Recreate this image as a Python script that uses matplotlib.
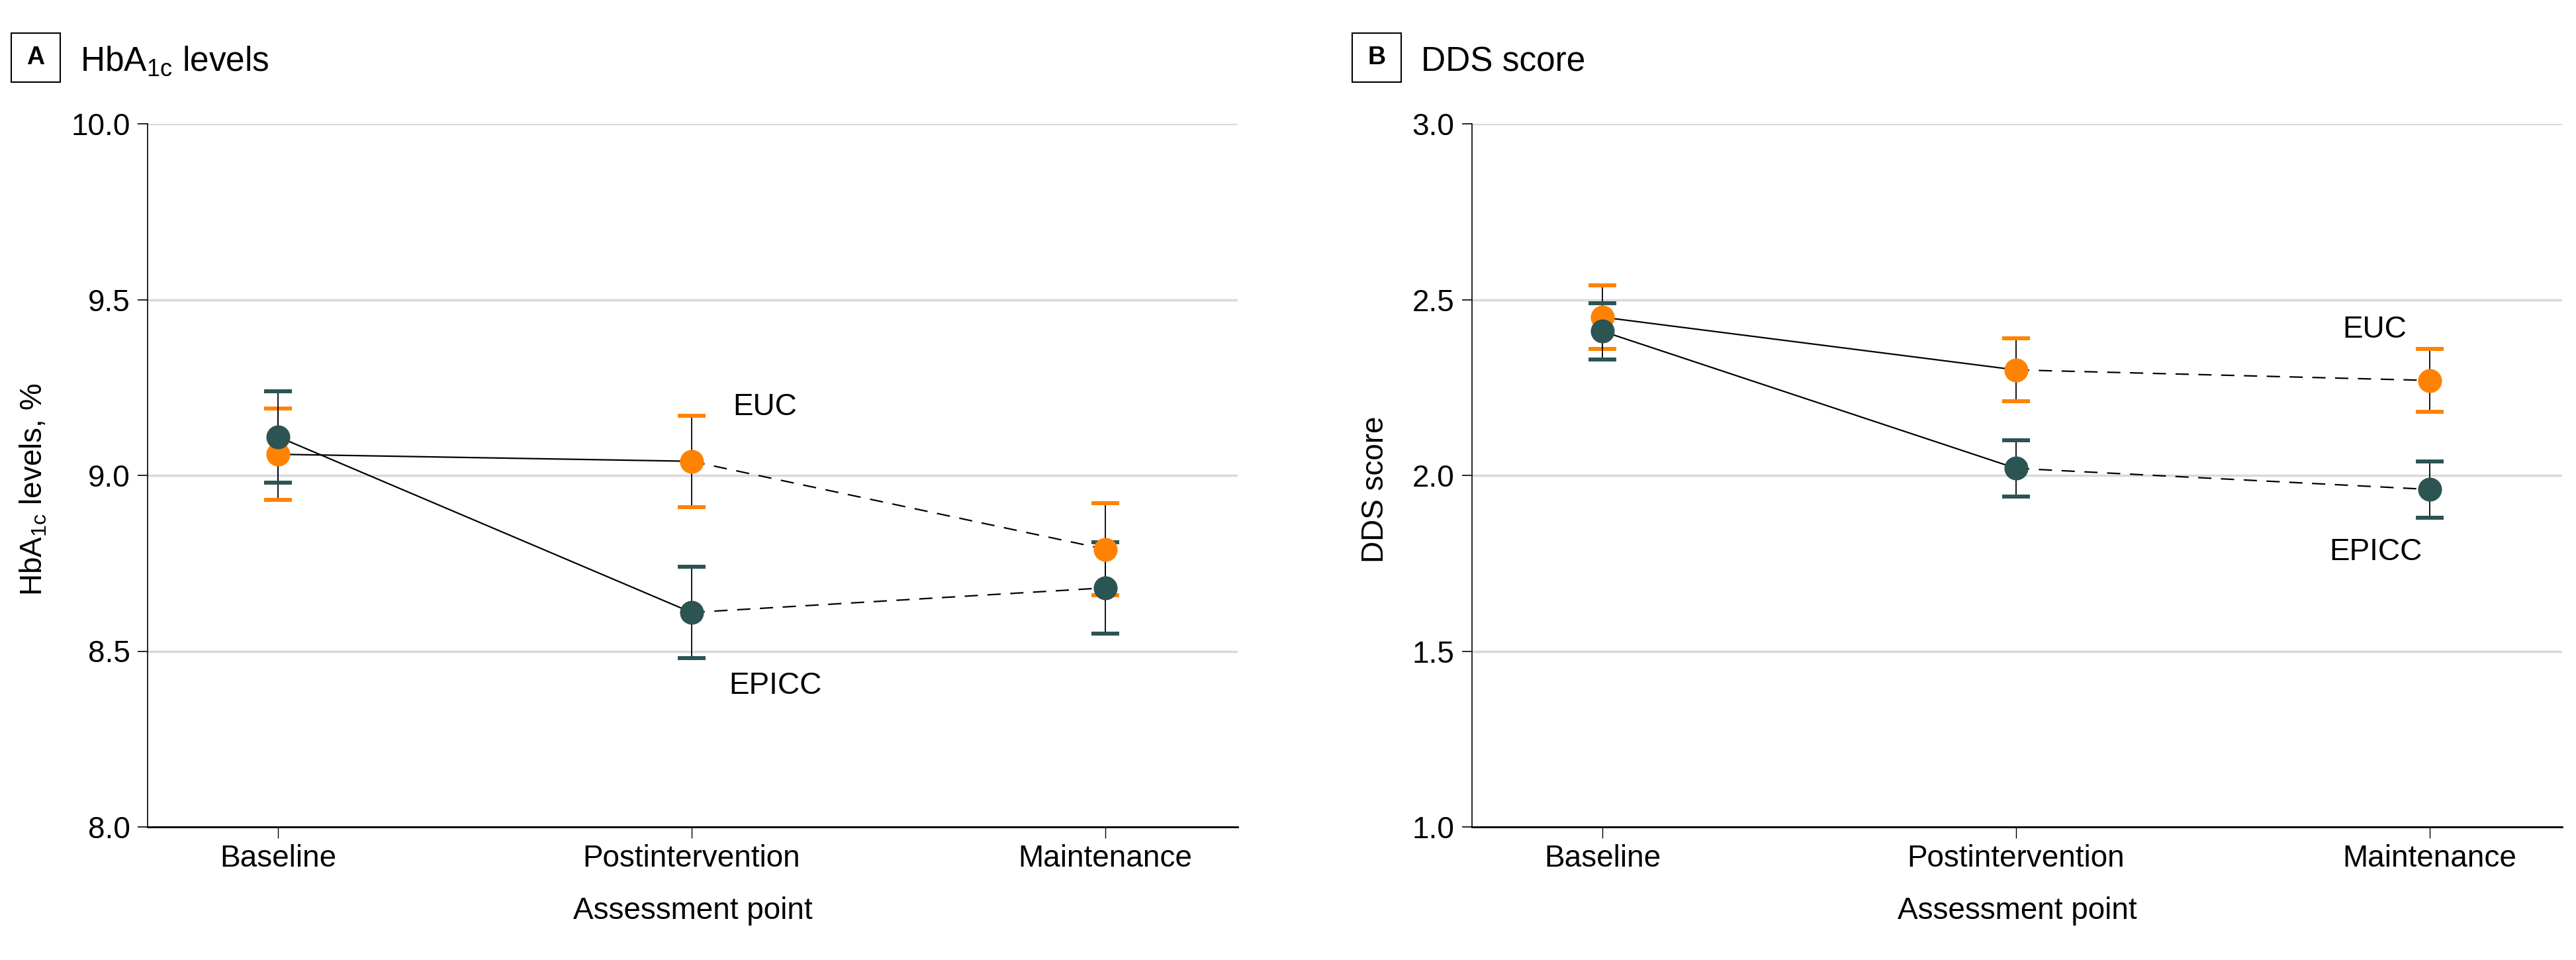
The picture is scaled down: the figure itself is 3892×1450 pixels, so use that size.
import matplotlib
matplotlib.use('Agg')
import matplotlib.pyplot as plt
from matplotlib.patches import Rectangle

plt.rcParams['font.family'] = ['Liberation Sans', 'DejaVu Sans']

# values
stages = ['Baseline', 'Postintervention', 'Maintenance']

hba1c_epicc = [9.11, 8.61, 8.68]
hba1c_epicc_lo = [8.98, 8.48, 8.55]
hba1c_epicc_hi = [9.24, 8.74, 8.81]
hba1c_euc = [9.06, 9.04, 8.79]
hba1c_euc_lo = [8.93, 8.91, 8.66]
hba1c_euc_hi = [9.19, 9.17, 8.92]

dds_epicc = [2.41, 2.02, 1.96]
dds_epicc_lo = [2.33, 1.94, 1.88]
dds_epicc_hi = [2.49, 2.10, 2.04]
dds_euc = [2.45, 2.30, 2.27]
dds_euc_lo = [2.36, 2.21, 2.18]
dds_euc_hi = [2.54, 2.39, 2.36]

hba1c_ticks = [8.0, 8.5, 9.0, 9.5, 10.0]
dds_ticks = [1.0, 1.5, 2.0, 2.5, 3.0]

ORANGE = '#FF8300'
TEAL = '#2B5453'
GRID = '#D9D9D9'
W, H = 3892, 1450
FS = 33

fig = plt.figure(figsize=(W / 100, H / 100), dpi=100)
axA = fig.add_axes([223 / W, 1 - 1249 / H, 1647 / W, 1062 / H])
axB = fig.add_axes([2224 / W, 1 - 1249 / H, 1647 / W, 1062 / H])


def draw_group(ax, y, lo, hi, color):
    x = list(range(len(y)))
    ax.plot(x[:2], y[:2], color='black', lw=1.6, zorder=2)
    ax.plot(x[1:], y[1:], color='black', lw=1.6, ls=(0, (9, 6.5)), zorder=2)
    err = [[v - l for v, l in zip(y, lo)], [h - v for v, h in zip(y, hi)]]
    eb = ax.errorbar(x, y, yerr=err, fmt='none', ecolor='black', elinewidth=1.3,
                     capsize=15, capthick=4.3, zorder=3)
    # caps take the group colour, the bar itself stays black
    for cap in eb.lines[1]:
        cap.set_markeredgecolor(color)
    ax.plot(x, y, 'o', ms=26, color=color, mec='none', zorder=4)


def style_axis(ax, ticks, ylabel, label_x):
    ax.set_xlim(-0.315, 2.32)
    ax.set_ylim(ticks[0], ticks[-1])
    ax.set_yticks(ticks)
    ax.set_yticklabels([f'{t:.1f}' for t in ticks])
    ax.set_xticks(range(len(stages)))
    ax.set_xticklabels(stages)
    ax.grid(axis='y', color=GRID, lw=2.5)
    ax.set_axisbelow(True)
    for s in ['top', 'right']:
        ax.spines[s].set_visible(False)
    ax.spines['left'].set_linewidth(1.2)
    ax.spines['bottom'].set_linewidth(2.0)
    ax.tick_params(axis='y', length=11, width=1.2, pad=8, labelsize=FS)
    ax.tick_params(axis='x', length=12, width=1.0, pad=6.5, labelsize=FS)
    ax.set_xlabel('Assessment point', fontsize=FS, va='top')
    ax.xaxis.set_label_coords(0.5, -0.099)
    ax.set_ylabel(ylabel, fontsize=FS)
    ax.yaxis.set_label_coords(label_x, 0.48)


draw_group(axA, hba1c_euc, hba1c_euc_lo, hba1c_euc_hi, ORANGE)
draw_group(axA, hba1c_epicc, hba1c_epicc_lo, hba1c_epicc_hi, TEAL)
style_axis(axA, hba1c_ticks, r'HbA$_{\mathregular{1c}}$ levels, %', -0.091)
axA.text(1.099, 9.171, 'EUC', fontsize=FS, va='baseline')
axA.text(1.09, 8.379, 'EPICC', fontsize=FS, va='baseline')

draw_group(axB, dds_euc, dds_euc_lo, dds_euc_hi, ORANGE)
draw_group(axB, dds_epicc, dds_epicc_lo, dds_epicc_hi, TEAL)
style_axis(axB, dds_ticks, 'DDS score', -0.075)
axB.text(1.79, 2.392, 'EUC', fontsize=FS, va='baseline')
axB.text(1.757, 1.759, 'EPICC', fontsize=FS, va='baseline')

# panel letters in boxes and panel titles
for letter, bx, title in [('A', 17, r'HbA$_{\mathregular{1c}}$ levels'),
                          ('B', 2043, 'DDS score')]:
    fig.patches.append(Rectangle((bx / W, 1 - 124 / H), 74 / W, 74 / H,
                                 transform=fig.transFigure, fill=False,
                                 ec='black', lw=1.5))
    fig.text((bx + 37) / W, 1 - 87 / H, letter, fontsize=27, fontweight='bold',
             ha='center', va='center')
    fig.text((bx + 104) / W, 1 - 107 / H, title, fontsize=37, va='baseline')

fig.savefig('out.png', dpi=100)
